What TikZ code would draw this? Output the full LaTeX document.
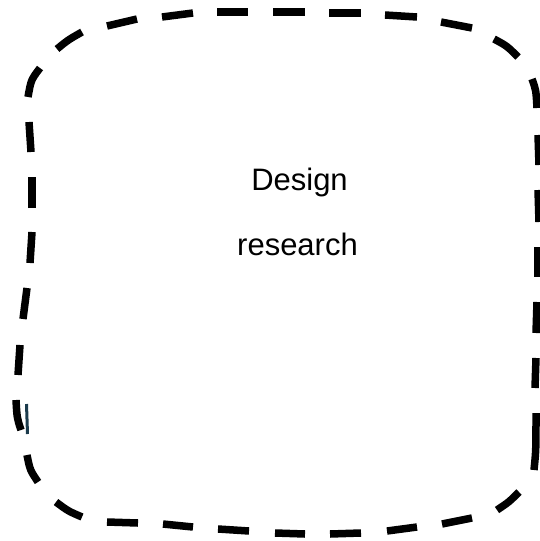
\documentclass[tikz,border=0pt]{standalone}
\usepackage{fontspec}
\setmainfont{Liberation Sans}
\definecolor{markteal}{HTML}{1B3B4C}
\begin{document}
\begin{tikzpicture}[x=1pt,y=-1pt,
  dsh/.style={line width=7.5pt, line cap=butt, draw=black},
  lbl/.style={font=\fontsize{31}{37}\selectfont, anchor=base, inner sep=0pt}]
\useasboundingbox (0,0) rectangle (540,541);
% top-left corner and top edge
\draw[dsh] (28,97) .. controls (31,80) .. (40,68);
\draw[dsh] (57,49) .. controls (68,40) .. (82,32);
\draw[dsh] (107,26) -- (137,19);
\draw[dsh] (162,17) -- (193,13);
\draw[dsh] (217,12) -- (248,12);
\draw[dsh] (273,12) -- (305,12);
\draw[dsh] (329,13) -- (361,13);
\draw[dsh] (385,15) -- (417,17);
\draw[dsh] (441,22) -- (472,28);
\draw[dsh] (494,39) .. controls (507,46) .. (518,57);
% right edge
\draw[dsh] (532,79) .. controls (536,90) .. (537,108);
\draw[dsh] (538,135) -- (539,165);
\draw[dsh] (538,190) -- (539,222);
\draw[dsh] (538,247) -- (538,277);
\draw[dsh] (537,302) -- (536,333);
\draw[dsh] (536,358) -- (535,388);
\draw[dsh] (536,413) .. controls (536,450) .. (534,470);
% bottom-right corner and bottom edge
\draw[dsh] (519,492) .. controls (509,502) .. (497,510);
\draw[dsh] (472,518) -- (442,524);
\draw[dsh] (417,527) -- (387,531);
\draw[dsh] (361,533) -- (330,534);
\draw[dsh] (305,534) -- (275,533);
\draw[dsh] (249,531) -- (218,529);
\draw[dsh] (193,527) -- (163,524);
\draw[dsh] (138,523) -- (107,522);
\draw[dsh] (82,517) .. controls (68,511) .. (56,502);
% left edge
\draw[dsh] (38,482) .. controls (30,470) .. (27,455);
\draw[dsh] (21,430) .. controls (17,418) .. (16,400);
\draw[dsh] (18,375) -- (20,345);
\draw[dsh] (23,319) -- (27,288);
\draw[dsh] (30,263) -- (32,232);
\draw[dsh] (32,208) -- (32,177);
\draw[dsh] (31,152) -- (29,122);
% small stray mark
\draw[line width=3pt, draw=markteal] (26.5,404) -- (27.5,434);
% label
\node[lbl] (design) at (299.5,190) {Design};
\node[lbl] (research) at (297.5,255) {research};
\end{tikzpicture}
\end{document}
